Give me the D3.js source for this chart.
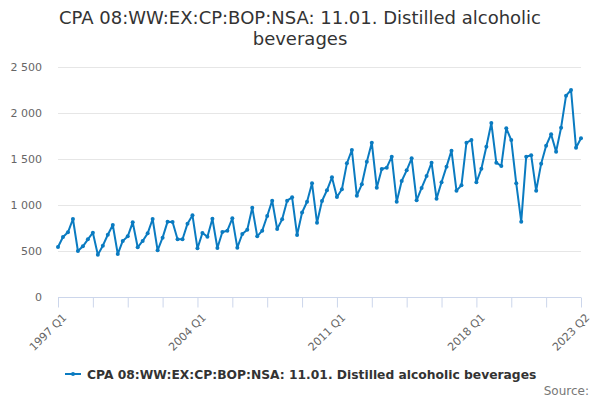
<!DOCTYPE html>
<html>
<head>
<meta charset="utf-8">
<script src="https://cdn.jsdelivr.net/npm/d3@7"></script>
<style>
  body { margin: 0; background: #fff; }
  svg { font-family: "DejaVu Sans", sans-serif; }
</style>
</head>
<body>
<div id="chart"></div>
<script>
const chartTitle = ["CPA 08:WW:EX:CP:BOP:NSA: 11.01. Distilled alcoholic", "beverages"];
const seriesName = "CPA 08:WW:EX:CP:BOP:NSA: 11.01. Distilled alcoholic beverages";
const startYear = 1997;

const values = [
    543, 652, 703, 848, 500, 551, 627, 699, 460, 558, 677, 783,
    467, 609, 659, 812, 540, 609, 692, 848, 507, 645, 819, 815,
    627, 627, 797, 888, 529, 696, 656, 851, 533, 707, 721, 855,
    536, 685, 732, 971, 659, 721, 880, 1047, 739, 844, 1047, 1083,
    674, 918, 1035, 1236, 808, 1043, 1160, 1301, 1087, 1171, 1453, 1598,
    1101, 1225, 1471, 1677, 1188, 1391, 1406, 1525, 1036, 1261, 1377, 1507,
    1051, 1185, 1315, 1460, 1069, 1248, 1417, 1591, 1156, 1214, 1677, 1706,
    1246, 1394, 1633, 1891, 1460, 1424, 1833, 1706, 1236, 819, 1525, 1540,
    1156, 1449, 1645, 1769, 1580, 1840, 2188, 2250, 1623, 1725
];
const quarterLabels = values.map((v, i) => `${startYear + Math.floor(i / 4)} Q${i % 4 + 1}`);
const labelledQuarters = ["1997 Q1", "2004 Q1", "2011 Q1", "2018 Q1", "2023 Q2"];
const yTicks = [0, 500, 1000, 1500, 2000, 2500];

const width = 600, height = 400;
const margin = { top: 67, right: 19, bottom: 103, left: 58 };
const lineColor = "#0a7bc1";

const svg = d3.select("#chart").append("svg")
    .attr("width", width).attr("height", height);

const x = d3.scaleLinear()
    .domain([0, values.length - 1])
    .range([margin.left, width - margin.right]);
const y = d3.scaleLinear()
    .domain([0, 2500])
    .range([height - margin.bottom, margin.top]);

// title
svg.append("text")
    .attr("x", width / 2).attr("y", 24)
    .attr("text-anchor", "middle")
    .attr("font-size", 18).attr("fill", "#333")
    .selectAll("tspan").data(chartTitle).join("tspan")
    .attr("x", width / 2).attr("dy", (d, i) => i ? 21 : 0)
    .text(d => d);

// gridlines + y labels
svg.append("g").selectAll("line").data(yTicks.filter(d => d > 0)).join("line")
    .attr("x1", margin.left).attr("x2", width - margin.right)
    .attr("y1", d => Math.round(y(d)) + 0.5).attr("y2", d => Math.round(y(d)) + 0.5)
    .attr("stroke", "#e6e6e6");

const fmt = d => d3.format(",")(d).replace(/,/g, " ");
svg.append("g").selectAll("text").data(yTicks).join("text")
    .attr("x", 42).attr("y", d => y(d) + 4)
    .attr("text-anchor", "end")
    .attr("font-size", 11).attr("fill", "#666")
    .text(fmt);

// x axis
const xAxis = d3.axisBottom(x)
    .tickValues(d3.range(0, values.length, 7))
    .tickSize(10)
    .tickFormat(i => labelledQuarters.includes(quarterLabels[i]) ? quarterLabels[i] : "");
const gx = svg.append("g")
    .attr("transform", `translate(0,${Math.round(y(0)) + 0.5})`)
    .call(xAxis);
gx.select(".domain").attr("stroke", "#ccd6eb").attr("d", `M${margin.left},0H${width - margin.right}`);
gx.selectAll(".tick line").attr("stroke", "#ccd6eb");
gx.selectAll(".tick text")
    .attr("font-size", 11).attr("fill", "#666")
    .attr("font-family", "DejaVu Sans, sans-serif")
    .attr("text-anchor", "end")
    .attr("transform", "translate(6,18) rotate(-45)")
    .attr("dy", "0.35em").attr("y", 0);

// series
const line = d3.line().x((d, i) => x(i)).y(d => y(d));
svg.append("path").datum(values)
    .attr("d", line)
    .attr("fill", "none")
    .attr("stroke", lineColor)
    .attr("stroke-width", 2)
    .attr("stroke-linejoin", "round");
svg.append("g").selectAll("circle").data(values).join("circle")
    .attr("cx", (d, i) => x(i)).attr("cy", d => y(d))
    .attr("r", 2).attr("fill", lineColor);

// legend
const legend = svg.append("g").attr("transform", "translate(0,374)");
legend.append("line")
    .attr("x1", 65).attr("x2", 81).attr("y1", 0).attr("y2", 0)
    .attr("stroke", lineColor).attr("stroke-width", 2);
legend.append("circle").attr("cx", 73).attr("cy", 0).attr("r", 2).attr("fill", lineColor);
legend.append("text")
    .attr("x", 87).attr("y", 4.5)
    .attr("font-size", 12.3).attr("font-weight", "bold").attr("fill", "#333")
    .text(seriesName);

// credits
svg.append("text")
    .attr("x", 589).attr("y", 395)
    .attr("text-anchor", "end")
    .attr("font-size", 12).attr("fill", "#777")
    .text("Source:");
</script>
</body>
</html>
